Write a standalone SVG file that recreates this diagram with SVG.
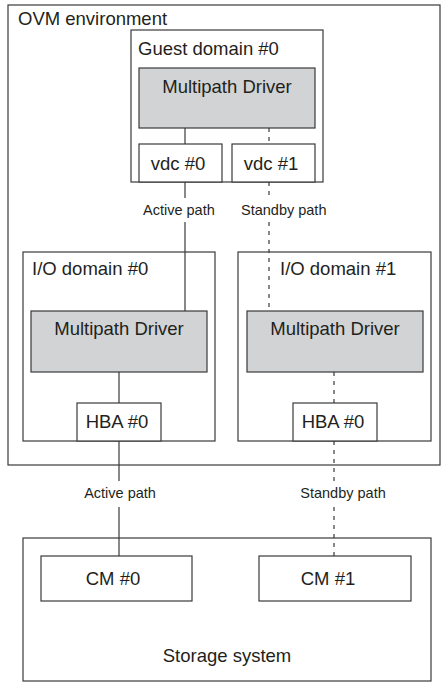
<svg xmlns="http://www.w3.org/2000/svg" width="441" height="682" viewBox="0 0 441 682">
  <style>
    .box { fill: #ffffff; stroke: #3a3a3a; stroke-width: 1.2; }
    .drv { fill: #d1d3d4; stroke: #3a3a3a; stroke-width: 1.2; }
    .t { font-family: "Liberation Sans", Arial, sans-serif; font-size: 18.5px; fill: #231f20; }
    .s { font-family: "Liberation Sans", Arial, sans-serif; font-size: 14.5px; fill: #231f20; }
    .mid { text-anchor: middle; }
    .solid { stroke: #3a3a3a; stroke-width: 1.2; fill: none; }
    .dash { stroke: #3a3a3a; stroke-width: 1.2; fill: none; stroke-dasharray: 4 5; }
  </style>

  <!-- OVM environment container -->
  <g id="ovm-environment">
    <rect class="box" x="8" y="5" width="432" height="460"/>
    <text class="t" x="18" y="25">OVM environment</text>
  </g>

  <!-- Guest domain -->
  <g id="guest-domain-0">
    <rect class="box" x="131" y="30" width="192" height="152"/>
    <text class="t" x="138" y="55">Guest domain #0</text>
  </g>
  <g id="guest-multipath-driver">
    <rect class="drv" x="139" y="68" width="176" height="60"/>
    <text class="t mid" x="227" y="93">Multipath Driver</text>
  </g>
  <g id="vdc-0">
    <rect class="box" x="139" y="144" width="83" height="38"/>
    <text class="t mid" x="178" y="170">vdc #0</text>
  </g>
  <g id="vdc-1">
    <rect class="box" x="232" y="144" width="83" height="38"/>
    <text class="t mid" x="271" y="170">vdc #1</text>
  </g>

  <!-- I/O domain #0 -->
  <g id="io-domain-0">
    <rect class="box" x="23" y="252" width="192" height="189"/>
    <text class="t" x="32" y="275">I/O domain #0</text>
  </g>
  <g id="io0-multipath-driver">
    <rect class="drv" x="31" y="311" width="176" height="61"/>
    <text class="t mid" x="119" y="335">Multipath Driver</text>
  </g>
  <g id="io0-hba-0">
    <rect class="box" x="77" y="403" width="84" height="38"/>
    <text class="t mid" x="117" y="428">HBA #0</text>
  </g>

  <!-- I/O domain #1 -->
  <g id="io-domain-1">
    <rect class="box" x="238" y="252" width="193" height="189"/>
    <text class="t" x="280" y="275">I/O domain #1</text>
  </g>
  <g id="io1-multipath-driver">
    <rect class="drv" x="247" y="311" width="176" height="61"/>
    <text class="t mid" x="335" y="335">Multipath Driver</text>
  </g>
  <g id="io1-hba-0">
    <rect class="box" x="293" y="403" width="84" height="38"/>
    <text class="t mid" x="333" y="428">HBA #0</text>
  </g>

  <!-- Storage system -->
  <g id="storage-system">
    <rect class="box" x="23" y="538" width="408" height="143"/>
    <text class="t mid" x="227" y="662">Storage system</text>
  </g>
  <g id="cm-0">
    <rect class="box" x="41" y="556" width="151" height="45"/>
    <text class="t mid" x="113" y="585">CM #0</text>
  </g>
  <g id="cm-1">
    <rect class="box" x="259" y="556" width="152" height="45"/>
    <text class="t mid" x="328" y="585">CM #1</text>
  </g>

  <!-- Paths between drivers, adapters and controllers -->
  <g id="connectors">
    <!-- active path -->
    <line class="solid" x1="185" y1="128" x2="185" y2="144"/>
    <line class="solid" x1="185" y1="182" x2="185" y2="198"/>
    <line class="solid" x1="185" y1="222" x2="185" y2="311"/>
    <line class="solid" x1="119" y1="372" x2="119" y2="403"/>
    <line class="solid" x1="119" y1="441" x2="119" y2="481"/>
    <line class="solid" x1="119" y1="507" x2="119" y2="556"/>
    <!-- standby path -->
    <line class="dash" x1="269" y1="128" x2="269" y2="144"/>
    <line class="dash" x1="269" y1="182" x2="269" y2="198"/>
    <line class="dash" x1="269" y1="222" x2="269" y2="311"/>
    <line class="dash" x1="334" y1="372" x2="334" y2="403"/>
    <line class="dash" x1="334" y1="441" x2="334" y2="481"/>
    <line class="dash" x1="334" y1="507" x2="334" y2="556"/>
    <!-- path labels -->
    <text class="s" x="143" y="215">Active path</text>
    <text class="s" x="241" y="215">Standby path</text>
    <text class="s mid" x="120" y="498">Active path</text>
    <text class="s mid" x="343" y="498">Standby path</text>
  </g>
</svg>
